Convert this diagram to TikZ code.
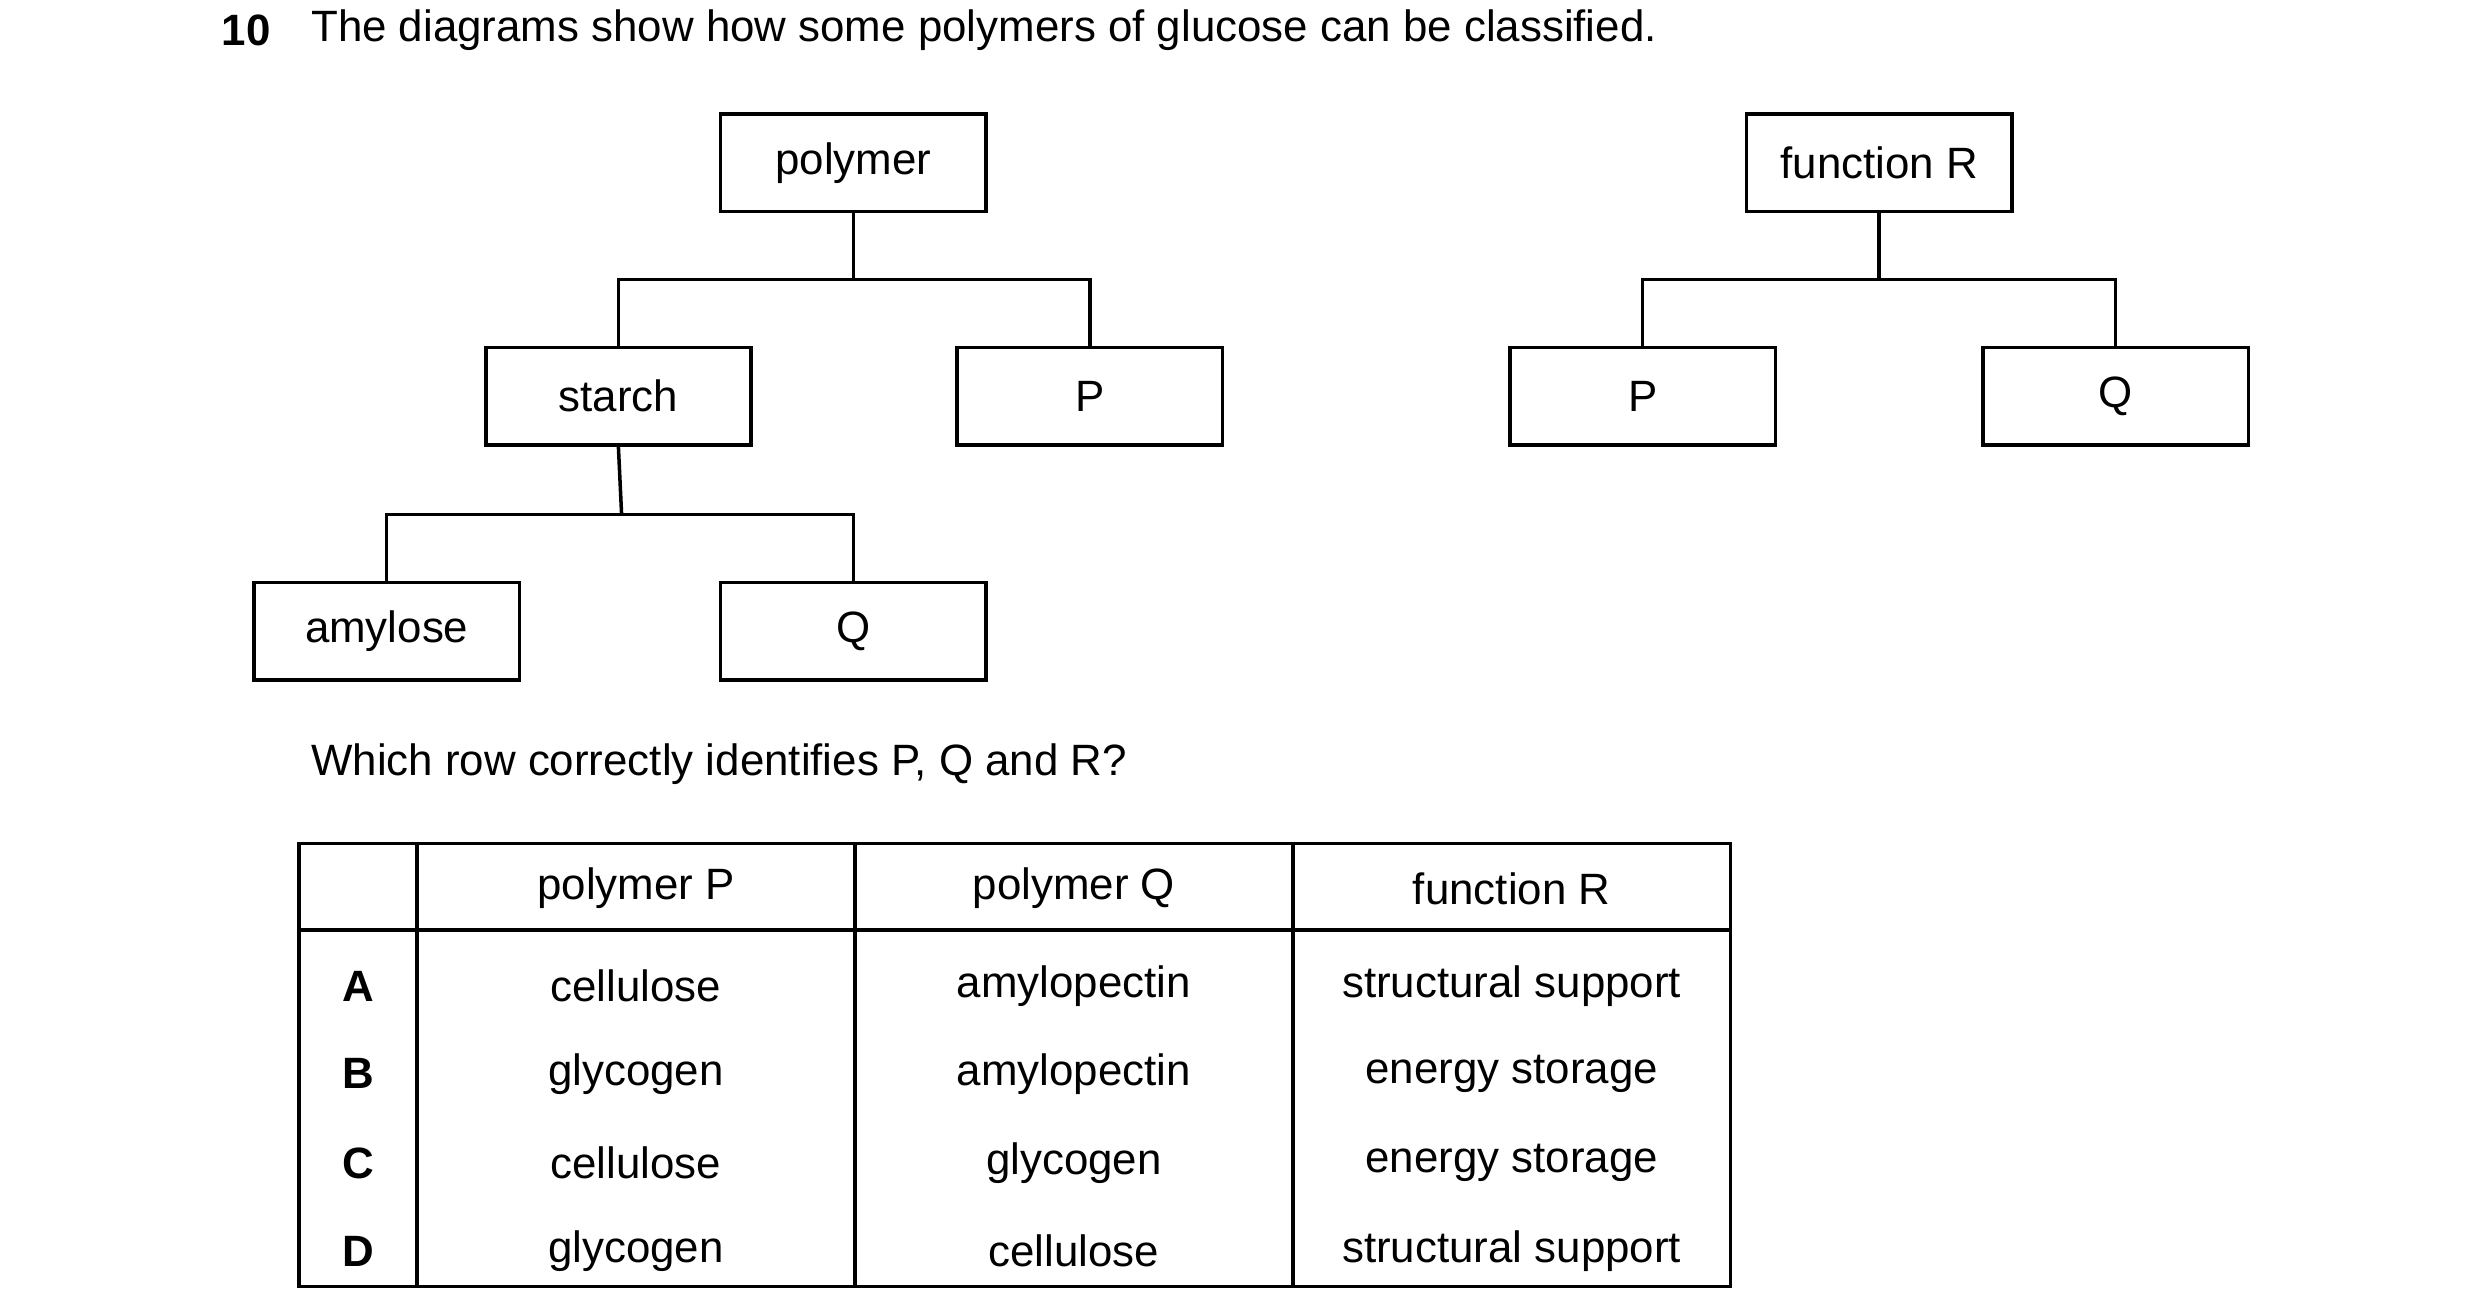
\documentclass[tikz,border=0pt]{standalone}
\usepackage{fontspec}
\setmainfont{Liberation Sans}
\usetikzlibrary{positioning}
\tikzset{
  box/.style={draw, line width=1pt, minimum width=166*0.016cm, minimum height=61*0.016cm, inner sep=0pt},
  link/.style={line width=1pt},
  cell/.style={inner sep=0pt}
}
\begin{document}
\begin{tikzpicture}[x=0.016cm, y=-0.016cm, font=\fontsize{12.5}{15}\selectfont]
\useasboundingbox (0,0) rectangle (1552,822);

\node[anchor=west, font=\fontsize{12.5}{15}\selectfont\bfseries] (num) at (131,19) {10};
\node[anchor=west] (title) at (187,19) {The diagrams show how some polymers of glucose can be classified.};

% first tree
\node[box] (polymer) at (534,102) {polymer};
\node[box] (starch) at (387,248) {starch};
\node[box] (P) at (682,248) {P};
\node[box] (amylose) at (242,395) {amylose};
\node[box] (Q) at (534,395) {Q};

\coordinate (j1) at (534,175);
\coordinate (j2) at (389,322);
\draw[link] (polymer.south) -- (j1);
\draw[link] (j1) -| (starch.north);
\draw[link] (j1) -| (P.north);
\draw[link] (starch.south) -- (j2);
\draw[link] (j2) -| (amylose.north);
\draw[link] (j2) -| (Q.north);

% second tree
\node[box] (funcR) at (1176,102) {function R};
\node[box] (P2) at (1028,248) {P};
\node[box] (Q2) at (1324,248) {Q};
\coordinate (j3) at (1176,175);
\draw[link] (funcR.south) -- (j3);
\draw[link] (j3) -| (P2.north);
\draw[link] (j3) -| (Q2.north);

\node[anchor=west] (question) at (187,478) {Which row correctly identifies P, Q and R?};

% table
\draw[link] (187,528) rectangle (1083,805);
\draw[link] (187,582) -- (1083,582);
\foreach \x in {261,535,809}
  \draw[link] (\x,528) -- (\x,805);

\node[cell] (hP) at (398,556) {polymer P};
\node[cell] (hQ) at (672,556) {polymer Q};
\node[cell] (hR) at (946,556) {function R};

\foreach \y/\l/\p/\q/\r in {617/A/cellulose/amylopectin/structural support,
                            672/B/glycogen/amylopectin/energy storage,
                            728/C/cellulose/glycogen/energy storage,
                            783/D/glycogen/cellulose/structural support}{
  \node[cell, font=\fontsize{12.5}{15}\selectfont\bfseries] (row\l) at (224,\y) {\l};
  \node[cell] (p\l) at (398,\y) {\p};
  \node[cell] (q\l) at (672,\y) {\q};
  \node[cell] (r\l) at (946,\y) {\r};
}
\end{tikzpicture}
\end{document}
